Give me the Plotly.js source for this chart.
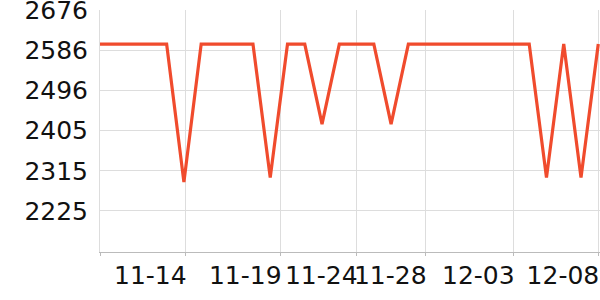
<!DOCTYPE html>
<html>
<head>
<meta charset="utf-8">
<script src="https://cdn.plot.ly/plotly-3.0.1.min.js"></script>
<style>
html,body{margin:0;padding:0;background:#fff;}
#chart{width:600px;height:300px;}
</style>
</head>
<body>
<div id="chart"></div>
<script>
// Data
const dates = ["11-09","11-10","11-11","11-12","11-13","11-14","11-15","11-16","11-17","11-18",
               "11-19","11-20","11-21","11-22","11-23","11-24","11-25","11-26","11-27","11-28",
               "11-29","11-30","12-01","12-02","12-03","12-04","12-05","12-06","12-07","12-08"];
const values = [2600,2600,2600,2600,2600,2290,2600,2600,2600,2600,
                2300,2600,2600,2420,2600,2600,2600,2420,2600,2600,
                2600,2600,2600,2600,2600,2600,2300,2600,2300,2600];
// Axis ticks
const yTickVals = [2225.2,2315.3,2405.5,2495.7,2585.8,2676];
const yTickText = ["2225","2315","2405","2496","2586","2676"];
const xTickVals = [0.14,5.1,10.6,15,19,24.1,29];
const xTickText = ["","11-14","11-19","11-24","11-28","12-03","12-08"];

const trace = {
  x: dates,
  y: values,
  type: 'scatter',
  mode: 'lines',
  line: {color: '#f04b2d', width: 3.2},
  hoverinfo: 'none'
};

const layout = {
  width: 600,
  height: 300,
  margin: {l: 100, r: 0, t: 10, b: 48, pad: 0},
  paper_bgcolor: '#ffffff',
  plot_bgcolor: '#ffffff',
  showlegend: false,
  font: {family: 'DejaVu Sans, sans-serif', size: 25, color: '#111111'},
  xaxis: {
    type: 'category',
    range: [0.14, 29.1],
    tickmode: 'array',
    tickvals: xTickVals,
    ticktext: xTickText,
    tickangle: 0,
    ticklabelposition: 'outside left',
    ticklabeloverflow: 'allow',
    ticklabelshift: 2,
    ticklabelstandoff: 1,
    showgrid: true,
    gridcolor: '#dddddd',
    gridwidth: 1,
    showline: true,
    linecolor: '#bbbbbb',
    linewidth: 1,
    ticks: 'outside',
    ticklen: 3,
    tickcolor: '#bbbbbb',
    zeroline: false,
    fixedrange: true
  },
  yaxis: {
    range: [2133, 2676.5],
    tickmode: 'array',
    tickvals: yTickVals,
    ticktext: yTickText,
    ticklabeloverflow: 'allow',
    showgrid: true,
    gridcolor: '#dddddd',
    gridwidth: 1,
    showline: true,
    linecolor: '#dddddd',
    linewidth: 1,
    ticks: '',
    ticklabelstandoff: 6,
    zeroline: false,
    fixedrange: true
  }
};

Plotly.newPlot('chart', [trace], layout, {staticPlot: true, displayModeBar: false});
</script>
</body>
</html>
